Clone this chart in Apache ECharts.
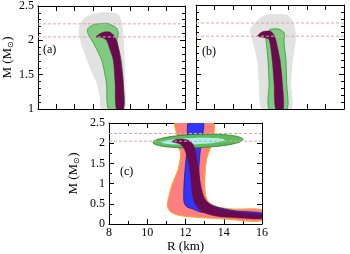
<!DOCTYPE html>
<html><head><meta charset="utf-8">
<script src="https://cdn.jsdelivr.net/npm/echarts@6/dist/echarts.min.js"></script>
<style>html,body{margin:0;padding:0;background:#fff}#c{width:350px;height:254px}</style>
</head><body><div id="c"></div>
<script>
// ---- data (R in km, M in solar masses) ----
const xRange = [8, 16];
const yRangeAB = [1, 2.5];
const yRangeC = [0, 2.5];
const limitLinesM = [2.05, 2.24];
const panelLabels = ['(a)', '(b)', '(c)'];

const greyA = [[11.47,1.0],[11.35,1.2],[11.2,1.375],[10.9,1.55],[10.67,1.71],[10.45,1.87],[10.3,2.0],[10.22,2.12],[10.25,2.21],[10.5,2.32],[10.93,2.38],[11.5,2.41],[11.8,2.41],[12.37,2.38],[12.58,2.25],[12.64,2.1],[12.7,1.85],[12.75,1.37],[12.7,1.0]];
const greenA = [[11.84,1.0],[11.73,1.375],[11.47,1.71],[11.04,1.95],[10.72,2.1],[10.72,2.17],[11.04,2.23],[11.5,2.245],[11.8,2.245],[12.27,2.18],[12.37,2.1],[12.3,2.0],[12.53,1.71],[12.64,1.375],[12.64,1.0]];
const purpleA = [[11.16,2.05],[11.4,2.1],[11.6,2.12],[11.9,2.12],[12.1,2.08],[12.27,2.0],[12.45,1.8],[12.6,1.5],[12.64,1.375],[12.66,1.0],[12.27,1.0],[12.2,1.375],[12.1,1.71],[11.9,1.88],[11.73,2.0],[11.5,2.04]];

const greyB = [[11.57,1.0],[11.4,1.37],[11.3,1.71],[11.03,2.0],[10.92,2.14],[11.14,2.23],[11.5,2.32],[11.78,2.36],[12.92,2.36],[13.3,2.23],[13.4,2.0],[13.24,1.71],[13.14,1.37],[13.14,1.0]];
const greenB = [[11.95,1.0],[11.95,1.37],[11.89,1.71],[11.78,2.0],[11.7,2.07],[12.05,2.15],[12.49,2.15],[12.76,2.1],[12.76,1.95],[12.86,1.71],[12.9,1.37],[12.92,1.0]];
const purpleB = [[11.31,2.05],[11.5,2.1],[11.68,2.12],[12.04,2.12],[12.2,2.07],[12.31,2.0],[12.54,1.71],[12.67,1.37],[12.72,1.0],[12.31,1.0],[12.22,1.37],[12.12,1.71],[11.95,2.0],[11.7,2.03]];

const salmonC = [[11.45,2.5],[11.5,2.3],[11.6,2.1],[11.62,1.9],[11.75,1.76],[11.62,1.36],[11.28,0.95],[11.05,0.47],[11.19,0.31],[11.7,0.21],[12.76,0.16],[14.15,0.12],[16,0.08],[16,0.35],[14.5,0.37],[13.63,0.43],[13.2,0.55],[13.05,0.71],[13.0,1.04],[13.1,1.6],[13.37,2.0],[13.45,2.5]];
const blueC = [[12.15,2.5],[12.1,2.2],[12.06,1.76],[11.98,1.36],[11.92,0.95],[11.92,0.55],[12.06,0.43],[12.4,0.37],[12.76,0.3],[14.15,0.22],[16,0.16],[16,0.27],[14.5,0.33],[13.45,0.45],[12.95,0.62],[12.75,0.95],[12.7,1.36],[12.76,1.76],[12.85,2.1],[12.93,2.5]];
const purpleC = [[11.3,2.04],[11.5,2.09],[11.9,2.1],[12.2,2.06],[12.42,1.95],[12.55,1.75],[12.62,1.5],[12.72,1.2],[12.82,0.9],[12.98,0.65],[13.3,0.47],[13.9,0.36],[14.8,0.29],[16,0.23],[16,0.13],[14.8,0.15],[13.8,0.18],[13.2,0.24],[12.8,0.33],[12.5,0.5],[12.35,0.75],[12.3,1.0],[12.24,1.3],[12.12,1.6],[11.95,1.85],[11.75,1.97],[11.5,2.01]];

const ellipseOuterCenter = [12.65, 2.055];
const ellipseOuterRadii = [2.35, 0.165];
const ellipseInnerCenter = [12.4, 2.05];
const ellipseInnerRadii = [1.65, 0.08];

// ---- chart ----
const serif = 'Liberation Serif';
const chart = echarts.init(document.getElementById('c'), null, {renderer: 'canvas'});

function xAx(grid, pos, yMinMax, interval, minorSplit, showLabel, name) {
  return {
    type: 'value', gridIndex: grid, position: pos, min: xRange[0], max: xRange[1], interval: interval,
    axisLine: {show: true, onZero: false, lineStyle: {color: '#000', width: 1}},
    axisTick: {show: true, inside: true, length: 5, lineStyle: {color: '#000', width: 1}},
    minorTick: {show: minorSplit > 0, splitNumber: minorSplit || 2, length: 3, lineStyle: {color: '#000', width: 1}},
    splitLine: {show: false}, minorSplitLine: {show: false},
    axisLabel: {show: showLabel, color: '#000', fontFamily: serif, fontSize: 12, margin: 3, showMinLabel: true, showMaxLabel: true},
    name: name || '', nameLocation: 'middle', nameGap: 16,
    nameTextStyle: {color: '#000', fontFamily: serif, fontSize: 13}
  };
}
function yAx(grid, pos, range, interval, minorSplit, showLabel, name, gap) {
  return {
    type: 'value', gridIndex: grid, position: pos, min: range[0], max: range[1], interval: interval,
    axisLine: {show: true, onZero: false, lineStyle: {color: '#000', width: 1}},
    axisTick: {show: true, inside: true, length: 5, lineStyle: {color: '#000', width: 1}},
    minorTick: {show: minorSplit > 0, splitNumber: minorSplit || 2, length: 3, lineStyle: {color: '#000', width: 1}},
    splitLine: {show: false}, minorSplitLine: {show: false},
    axisLabel: {show: showLabel, color: '#000', fontFamily: serif, fontSize: 12, margin: 4, showMinLabel: true, showMaxLabel: true},
    name: name ? '{n|M (M}{s|\u2299}{n|)}' : '', nameLocation: 'middle', nameRotate: 90, nameGap: gap || 20,
    nameTextStyle: {color: '#000', fontFamily: serif, fontSize: 13,
      rich: {n: {fontFamily: serif, fontSize: 13, color: '#000'}, s: {fontFamily: serif, fontSize: 8, color: '#000', padding: [7, 0, 0, 0]}}}
  };
}

function poly(points, ax, fill, stroke, lw, z) {
  return {
    type: 'custom', coordinateSystem: 'cartesian2d', xAxisIndex: ax, yAxisIndex: ax, data: [0], silent: true, z: z, clip: true,
    renderItem: function (params, api) {
      return {type: 'polygon', shape: {points: points.map(p => api.coord(p)), smooth: 0.25},
        style: {fill: fill, stroke: stroke || null, lineWidth: lw || 0}};
    }
  };
}
function ell(center, radii, ax, fill, stroke, lw, z) {
  return {
    type: 'custom', coordinateSystem: 'cartesian2d', xAxisIndex: ax, yAxisIndex: ax, data: [0], silent: true, z: z,
    renderItem: function (params, api) {
      const c = api.coord(center);
      const rx = api.size([radii[0], 0])[0];
      const ry = api.size([0, radii[1]])[1];
      return {type: 'ellipse', x: c[0], y: c[1], rotation: 0.035,
        shape: {cx: 0, cy: 0, rx: rx, ry: ry},
        style: {fill: fill, stroke: stroke || null, lineWidth: lw || 0}};
    }
  };
}
function dashed(ax) {
  return limitLinesM.map(m => ({
    type: 'line', xAxisIndex: ax, yAxisIndex: ax, data: [[xRange[0], m], [xRange[1], m]], symbol: 'none', silent: true, z: 20,
    lineStyle: {color: '#e0a4a4', width: 1, type: [3, 2]}, animation: false
  }));
}

const GREY = '#e2e2e2', GREEN = '#7fcb7f', GREEN_EDGE = '#2f9a2f', PURPLE = '#690b4e';

const option = {
  animation: false,
  grid: [
    {left: 35, top: 5, width: 150, height: 104},
    {left: 196, top: 5, width: 148, height: 104},
    {left: 109, top: 123, width: 153, height: 103}
  ],
  xAxis: [
    xAx(0, 'bottom', null, 1, 0, false), xAx(0, 'top', null, 1, 0, false),
    xAx(1, 'bottom', null, 1, 0, false), xAx(1, 'top', null, 1, 0, false),
    xAx(2, 'bottom', null, 2, 2, true, 'R (km)'), xAx(2, 'top', null, 2, 2, false)
  ],
  yAxis: [
    yAx(0, 'left', yRangeAB, 0.5, 5, true, true, 21), yAx(0, 'right', yRangeAB, 0.5, 5, false),
    yAx(1, 'left', yRangeAB, 0.5, 5, false), yAx(1, 'right', yRangeAB, 0.5, 5, false),
    yAx(2, 'left', yRangeC, 0.5, 2, true, true, 28), yAx(2, 'right', yRangeC, 0.5, 2, false)
  ],
  graphic: [
    {type: 'text', left: 43, top: 44, style: {text: panelLabels[0], font: '12px "Liberation Serif"', fill: '#000'}},
    {type: 'text', left: 202, top: 46, style: {text: panelLabels[1], font: '12px "Liberation Serif"', fill: '#000'}},
    {type: 'text', left: 120, top: 166, style: {text: panelLabels[2], font: '12px "Liberation Serif"', fill: '#000'}}
  ],
  series: [
    poly(greyA, 0, GREY, null, 0, 1),
    poly(greenA, 0, GREEN, GREEN_EDGE, 0.8, 2),
    poly(purpleA, 0, PURPLE, PURPLE, 0.5, 3),
    ...dashed(0),
    poly(greyB, 2, GREY, null, 0, 1),
    poly(greenB, 2, GREEN, GREEN_EDGE, 0.8, 2),
    poly(purpleB, 2, PURPLE, PURPLE, 0.5, 3),
    ...dashed(2),
    poly(salmonC, 4, '#ff7e7e', '#ffa31a', 1, 1),
    poly(blueC, 4, '#3434ff', '#1a1a90', 0.8, 2),
    ell(ellipseOuterCenter, ellipseOuterRadii, 4, '#5dbb5d', '#2a7f2a', 0.8, 3),
    ell(ellipseInnerCenter, ellipseInnerRadii, 4, '#a8f2ea', null, 0, 4),
    poly(purpleC, 4, PURPLE, PURPLE, 0.5, 5),
    ...dashed(4)
  ]
};
chart.setOption(option);
</script>
</body></html>
